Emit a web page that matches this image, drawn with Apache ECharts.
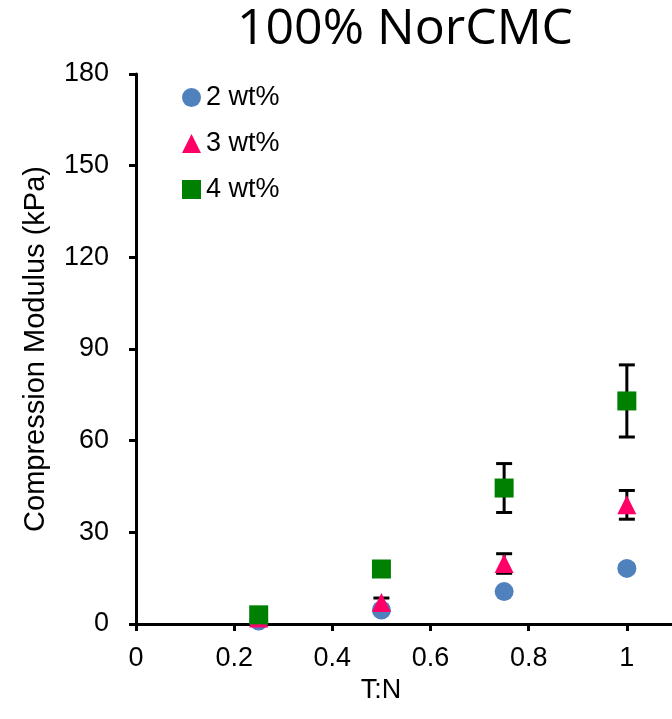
<!DOCTYPE html>
<html>
<head>
<meta charset="utf-8">
<script src="https://cdn.jsdelivr.net/npm/echarts@6/dist/echarts.min.js"></script>
<style>
  html, body { margin: 0; padding: 0; background: #fff; }
  #chart { width: 672px; height: 719px; }
</style>
</head>
<body>
<div id="chart"></div>
<script>
const ratios = [0.25, 0.5, 0.75, 1];

const wt2 = [1, 4.6, 10.6, 18.2];
const wt2Err = [0.5, 0.8, 1, 1.2];

const wt3 = [2, 7, 19.8, 39];
const wt3Err = [0.5, 1.5, 3.2, 4.7];

const wt4 = [3, 18, 44.5, 73];
const wt4Err = [0.6, 1, 8, 11.8];

const xTicks = [0, 0.2, 0.4, 0.6, 0.8, 1];

const pairs = (ys) => ratios.map((x, i) => [x, ys[i]]);
const errRows = (ys, es) => ratios.map((x, i) => [x, ys[i] - es[i], ys[i] + es[i]]);

// black error bars with caps, drawn under the markers
const errorBars = (name, ys, es) => ({
  name: name + ' err',
  type: 'custom',
  z: 1,
  silent: true,
  data: errRows(ys, es),
  renderItem: (params, api) => {
    const lo = api.coord([api.value(0), api.value(1)]);
    const hi = api.coord([api.value(0), api.value(2)]);
    const w = 8;
    const st = { stroke: '#000', lineWidth: 3 };
    return {
      type: 'group',
      children: [
        { type: 'line', shape: { x1: lo[0], y1: lo[1], x2: hi[0], y2: hi[1] }, style: st },
        { type: 'line', shape: { x1: lo[0] - w, y1: lo[1], x2: lo[0] + w, y2: lo[1] }, style: st },
        { type: 'line', shape: { x1: hi[0] - w, y1: hi[1], x2: hi[0] + w, y2: hi[1] }, style: st }
      ]
    };
  }
});

const chart = echarts.init(document.getElementById('chart'), null, { renderer: 'canvas' });

const font = 'Liberation Sans, Arial, sans-serif';

chart.setOption({
  animation: false,
  title: {
    text: '100% NorCMC',
    left: 400,
    top: 0,
    textAlign: 'center',
    textStyle: { fontFamily: 'Open Sans, Noto Sans, sans-serif', fontSize: 50, fontWeight: 'normal', color: '#000' }
  },
  legend: {
    orient: 'vertical',
    left: 177,
    top: 79,
    itemGap: 19,
    itemWidth: 19,
    itemHeight: 19,
    textStyle: { fontFamily: font, fontSize: 27, color: '#000' },
    data: [
      { name: '2 wt%', icon: 'circle' },
      { name: '3 wt%', icon: 'triangle' },
      { name: '4 wt%', icon: 'rect' }
    ]
  },
  // the original plot is cropped at the right edge, a bit past x = 1
  grid: { left: 136, right: 0, top: 74, bottom: 95, containLabel: false },
  xAxis: {
    type: 'value',
    min: 0,
    max: 1.092,
    name: 'T:N',
    nameLocation: 'middle',
    nameGap: 52,
    nameTextStyle: { fontFamily: font, fontSize: 27, color: '#000', padding: [0, 46, 0, 0] },
    splitLine: { show: false },
    axisLine: { onZero: false, lineStyle: { color: '#000', width: 3 } },
    axisTick: { show: true, length: 7, customValues: xTicks, lineStyle: { color: '#000', width: 3 } },
    axisLabel: {
      fontFamily: font, fontSize: 27, color: '#000', margin: 21,
      customValues: xTicks,
      formatter: (v) => String(+v.toFixed(1))
    }
  },
  yAxis: {
    type: 'value',
    min: 0,
    max: 180,
    interval: 30,
    name: 'Compression Modulus (kPa)',
    nameLocation: 'middle',
    nameGap: 86,
    nameRotate: 90,
    nameTextStyle: { fontFamily: font, fontSize: 29, color: '#000' },
    splitLine: { show: false },
    axisLine: { show: true, lineStyle: { color: '#000', width: 3 } },
    axisTick: { show: true, length: 7, lineStyle: { color: '#000', width: 3 } },
    axisLabel: { fontFamily: font, fontSize: 27, color: '#000', margin: 27 }
  },
  series: [
    errorBars('2 wt%', wt2, wt2Err),
    errorBars('3 wt%', wt3, wt3Err),
    errorBars('4 wt%', wt4, wt4Err),
    {
      name: '2 wt%', type: 'scatter', z: 3, symbol: 'circle', symbolSize: 19,
      itemStyle: { color: '#4F81BD', opacity: 1 }, data: pairs(wt2)
    },
    {
      name: '3 wt%', type: 'scatter', z: 4, symbol: 'triangle', symbolSize: 19,
      itemStyle: { color: '#FF0066', opacity: 1 }, data: pairs(wt3)
    },
    {
      name: '4 wt%', type: 'scatter', z: 5, symbol: 'rect', symbolSize: 19,
      itemStyle: { color: '#008000', opacity: 1 }, data: pairs(wt4)
    }
  ]
});
</script>
</body>
</html>
